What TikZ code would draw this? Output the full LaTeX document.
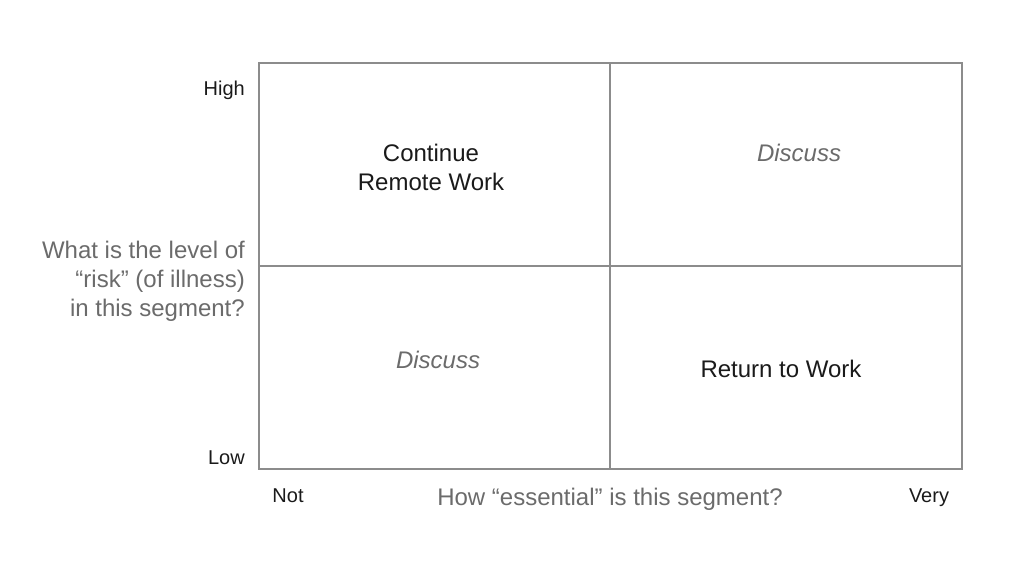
\documentclass[tikz,border=0pt]{standalone}
\usepackage{fontspec}
\setmainfont{Liberation Sans}
\usepackage{tikz}
\usetikzlibrary{positioning}
\definecolor{gridgray}{HTML}{8C8C8C}
\definecolor{labelgray}{HTML}{6B6B6B}
\definecolor{darktext}{HTML}{1A1A1A}

\begin{document}
\begin{tikzpicture}[x=1pt,y=1pt,
        gridline/.style={draw=gridgray,line width=1.5pt},
        big/.style={font=\fontsize{24}{29}\selectfont,inner sep=0pt},
        small/.style={font=\fontsize{20}{24}\selectfont,inner sep=0pt,text=darktext},
        action/.style={big,text=darktext,align=center},
        discuss/.style={big,text=labelgray,font=\fontsize{24}{29}\selectfont\itshape},
        question/.style={big,text=labelgray}]
            \useasboundingbox (0,0) rectangle (1024,568);
            % grid corners
            \coordinate (sw) at (259,99);
            \coordinate (ne) at (962,505);
            \coordinate (ms) at (610,99);
            \coordinate (mn) at (610,505);
            \coordinate (mw) at (259,302);
            \coordinate (me) at (962,302);
            \draw[gridline] (sw) rectangle (ne);
            \draw[gridline] (ms) -- (mn);
            \draw[gridline] (mw) -- (me);
            % quadrants
            \node[action,anchor=base](remote) at (431,377.5){Continue\\Remote Work};
            \node[discuss,anchor=base](dtr) at (799,406.5){Discuss};
            \node[discuss,anchor=base](dbl) at (438,199.5){Discuss};
            \node[action,anchor=base](back) at (781,190.5){Return to Work};
            % axes
            \node[small,anchor=base east](high) at (245,472){High};
            \node[small,anchor=base east](low) at (245,104){Low};
            \node[question,align=right,anchor=base east](risk) at (245,251.5){What is the level of\\“risk” (of illness)\\in this segment?};
            \node[small,anchor=base](lo) at (288,66){Not};
            \node[small,anchor=base](hi) at (929,66){Very};
            \node[question,anchor=base](ess) at (610,62.5){How “essential” is this segment?};
        \end{tikzpicture}
\end{document}
